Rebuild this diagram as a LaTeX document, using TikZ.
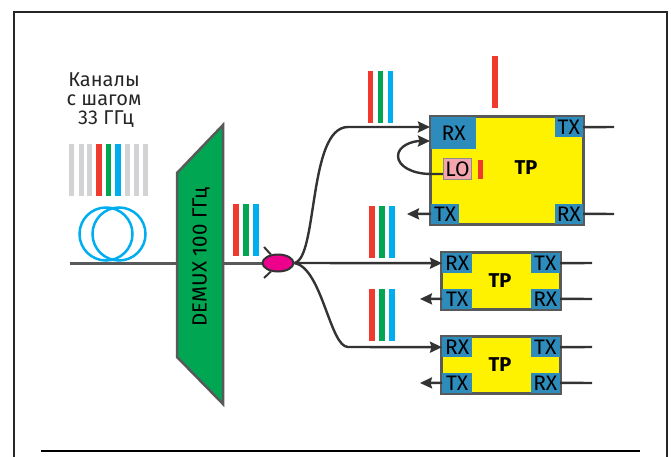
\documentclass[tikz,border=0pt]{standalone}
\usepackage{fontspec}
\setmainfont{Fira Sans}
\usetikzlibrary{arrows.meta,shapes.geometric}
\definecolor{cred}{HTML}{EF3A2D}
\definecolor{cgreen}{HTML}{00A651}
\definecolor{cblue}{HTML}{00AEEF}
\definecolor{cgray}{HTML}{D1D3D4}
\definecolor{port}{HTML}{2E8CBD}
\definecolor{tpy}{HTML}{FFF200}
\definecolor{edge}{HTML}{58595B}
\definecolor{wire}{HTML}{333333}
\definecolor{lopink}{HTML}{F4A6AE}
\definecolor{splt}{HTML}{EC008C}
\newcommand{\trio}[3]{%
  \fill[cred] (#1,#2) rectangle ++(5.5,#3);
  \fill[cgreen] (#1+10,#2) rectangle ++(5.5,#3);
  \fill[cblue] (#1+20,#2) rectangle ++(5.5,#3);}
\tikzset{
  tpbox/.style={draw=edge,line width=2.2pt,fill=tpy,inner sep=0pt},
  tplabel/.style={inner sep=0pt,font=\fontsize{20}{20}\selectfont\bfseries},
  portbox/.style={fill=port,inner sep=0pt,font=\fontsize{21}{21}\selectfont,text=black},
  wirelin/.style={draw=wire,line width=2.4pt},
  fiber/.style={draw=edge,line width=3pt},
  arr/.style={wirelin,-{Stealth[length=12pt,width=11pt,inset=1.5pt]}},
  whisk/.style={draw=wire,line width=2pt},
  label/.style={inner sep=0pt,align=center,font=\fontsize{20}{19}\selectfont,text=black!85}
}
\begin{document}
\begin{tikzpicture}[x=1pt,y=-1pt]
\useasboundingbox (0,0) rectangle (671,457);
% frame
\draw[line width=1.3pt,black!85] (14,457) -- (14,12) -- (667,12) -- (667,457);
\draw[line width=1.3pt,black] (41,451) -- (640,451);
% labels
\node[label] (l1) at (104,100) {Каналы\\с шагом\\\hspace*{4pt}33 ГГц};
% channel comb
\foreach \x in {69,78.5,87,125,134,143}{\fill[cgray] (\x,144) rectangle ++(5,52);}
\fill[cred] (96,144) rectangle ++(5.5,52);
\fill[cgreen] (105.5,144) rectangle ++(5.5,52);
\fill[cblue] (115,144) rectangle ++(5.5,52);
% fibre coil
\draw[cblue,line width=2.5pt] (106,234) circle (26.5);
\draw[cblue,line width=2.5pt] (119,234) circle (26.5);
% demux
\coordinate (fin) at (70,263);
\node[inner sep=0pt,minimum size=0pt] (dl) at (177,263) {};
\node[inner sep=0pt,minimum size=0pt] (dr) at (223,263) {};
\node[inner sep=0pt,minimum size=0pt] (sp0) at (265,263) {};
\draw[fiber] (fin) -- (dl);
\draw[fiber] (dr) -- (sp0);
\draw[draw=edge,line width=2.5pt,fill=cgreen,line join=miter] (177,173) -- (223,125) -- (223,404) -- (177,357) -- cycle;
\node[rotate=90,inner sep=0pt,font=\fontsize{20.5}{20.5}\selectfont,text=black] (demux) at (201,257) {DEMUX 100 ГГц};
\trio{233}{204}{52}
% boxes
\node[tpbox,minimum width=152pt,minimum height=107pt] (tpa) at (507,170.5) {};
\node[portbox,anchor=north west,minimum width=45pt,minimum height=32pt] (arx) at (431,117) {RX};
\node[portbox,anchor=north east,minimum width=28pt,minimum height=20pt] (atx) at (583,117) {TX};
\node[portbox,anchor=south west,minimum width=28pt,minimum height=20pt] (atx2) at (431,224) {TX};
\node[portbox,anchor=south east,minimum width=28pt,minimum height=20pt] (arx2) at (583,224) {RX};
\draw[edge,line width=2.2pt] (tpa.north west) rectangle (tpa.south east);
\node[tplabel] (tpat) at (526,168) {TP};
\node[draw=black!45,line width=1.5pt,fill=lopink,inner sep=0pt,minimum width=28pt,minimum height=21pt,font=\fontsize{21}{21}\selectfont] (lo) at (457.5,169) {LO};
\fill[cred] (478,160) rectangle (483,179);
\fill[cred] (492,56) rectangle (497.5,108);
\foreach \n/\cy in {b/281,c/365}{
  \node[tpbox,minimum width=118pt,minimum height=56pt] (tp\n) at (501,\cy) {};
  \node[portbox,anchor=north west,minimum width=30pt,minimum height=20pt] (\n rx) at (442,\cy-28) {RX};
  \node[portbox,anchor=north east,minimum width=29pt,minimum height=20pt] (\n tx) at (560,\cy-28) {TX};
  \node[portbox,anchor=south west,minimum width=30pt,minimum height=20pt] (\n tx2) at (442,\cy+28) {TX};
  \node[portbox,anchor=south east,minimum width=29pt,minimum height=20pt] (\n rx2) at (560,\cy+28) {RX};
  \draw[edge,line width=2.2pt] (tp\n.north west) rectangle (tp\n.south east);
  \node[tplabel] (tp\n t) at (500,\cy) {TP};
}
% free ends
\coordinate (aout) at (614,127);
\coordinate (ain) at (614,214);
\coordinate (aback) at (407,214);
\coordinate (bout) at (592,263);
\coordinate (bin) at (592,299);
\coordinate (bback) at (420,299);
\coordinate (cout) at (592,347);
\coordinate (cin) at (592,383);
\coordinate (cback) at (420,383);
\coordinate (ainup) at (430,127);
\coordinate (ainlo) at (430,141);
\coordinate (lolow) at (431,174);
% splitter
\node[draw=wire,line width=2pt,fill=splt,ellipse,inner sep=0pt,minimum width=31pt,minimum height=17pt] (sp) at (278,263) {};
\coordinate (wa) at (264,247);
\coordinate (wb) at (264,278);
\draw[whisk] (sp.130) -- (wa);
\draw[whisk] (sp.230) -- (wb);
% connectors
\draw[arr] (sp.east) .. controls (318,258) and (308,127) .. (348,127) -- (ainup);
\draw[arr] (sp.east) -- (brx.west);
\draw[arr] (sp.east) .. controls (322,268) and (330,347) .. (348,347) -- (crx.west);
\draw[arr] (lo.west |- lolow) -- (lolow) .. controls (412,174) and (398,166) .. (398,156) .. controls (398,146) and (412,141) .. (ainlo);
\draw[wirelin] (atx.east) -- (aout);
\draw[wirelin] (arx2.east) -- (ain);
\draw[arr] (atx2.west) -- (aback);
\draw[wirelin] (btx.east) -- (bout);
\draw[wirelin] (brx2.east) -- (bin);
\draw[arr] (btx2.west) -- (bback);
\draw[wirelin] (ctx.east) -- (cout);
\draw[wirelin] (crx2.east) -- (cin);
\draw[arr] (ctx2.west) -- (cback);
% bars
\trio{367.5}{71}{52}
\trio{369}{206}{52}
\trio{369}{289}{52}
\end{tikzpicture}
\end{document}
